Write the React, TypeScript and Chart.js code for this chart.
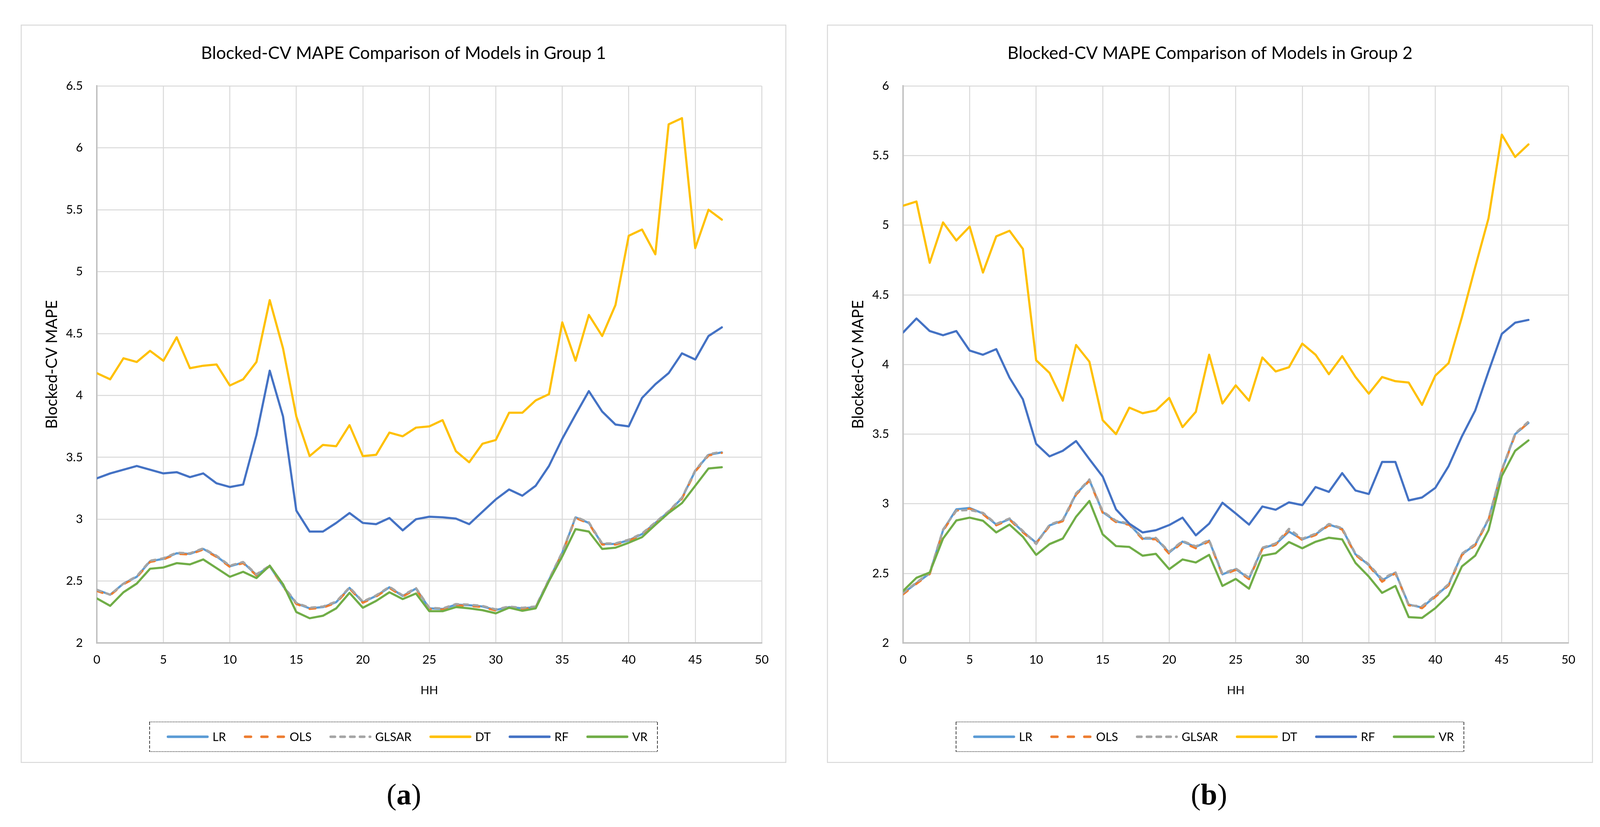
import React, { useEffect, useRef } from 'react';
import { Chart, registerables } from 'chart.js';

Chart.register(...registerables);

// ---------------- data ----------------
const HH = [0, 1, 2, 3, 4, 5, 6, 7, 8, 9, 10, 11, 12, 13, 14, 15, 16, 17, 18, 19, 20, 21, 22, 23, 24, 25, 26, 27, 28, 29, 30, 31, 32, 33, 34, 35, 36, 37, 38, 39, 40, 41, 42, 43, 44, 45, 46, 47];

const SERIES_NAMES = ['LR', 'OLS', 'GLSAR', 'DT', 'RF', 'VR'];

const TITLE_A = 'Blocked-CV MAPE Comparison of Models in Group 1';
const TITLE_B = 'Blocked-CV MAPE Comparison of Models in Group 2';
const Y_TITLE = 'Blocked-CV MAPE';
const X_TITLE = 'HH';

const X_TICKS = { min: 0, max: 50, step: 5 };
const Y_TICKS_A = { min: 2, max: 6.5, step: 0.5 };
const Y_TICKS_B = { min: 2, max: 6, step: 0.5 };

// Group 1
const LR_A = [2.43, 2.39, 2.48, 2.535, 2.66, 2.68, 2.725, 2.72, 2.76, 2.70, 2.62, 2.65, 2.55, 2.62, 2.46, 2.32, 2.28, 2.29, 2.33, 2.445, 2.33, 2.38, 2.45, 2.38, 2.44, 2.28, 2.275, 2.31, 2.305, 2.295, 2.267, 2.29, 2.28, 2.29, 2.51, 2.73, 3.015, 2.97, 2.80, 2.80, 2.83, 2.88, 2.97, 3.06, 3.17, 3.39, 3.52, 3.54];
const OLS_A = [2.42, 2.385, 2.475, 2.53, 2.655, 2.675, 2.72, 2.715, 2.755, 2.695, 2.615, 2.645, 2.545, 2.62, 2.455, 2.315, 2.275, 2.285, 2.325, 2.44, 2.325, 2.375, 2.445, 2.375, 2.435, 2.275, 2.27, 2.305, 2.3, 2.29, 2.262, 2.285, 2.275, 2.285, 2.505, 2.725, 3.01, 2.965, 2.795, 2.795, 2.825, 2.875, 2.965, 3.055, 3.165, 3.385, 3.515, 3.535];
const GLSAR_A = [2.43, 2.39, 2.48, 2.54, 2.665, 2.685, 2.73, 2.725, 2.765, 2.705, 2.625, 2.655, 2.555, 2.625, 2.465, 2.325, 2.285, 2.295, 2.335, 2.45, 2.335, 2.385, 2.455, 2.385, 2.445, 2.285, 2.28, 2.315, 2.31, 2.3, 2.272, 2.295, 2.285, 2.295, 2.515, 2.735, 3.02, 2.975, 2.805, 2.805, 2.835, 2.885, 2.975, 3.065, 3.175, 3.395, 3.525, 3.545];
const DT_A = [4.18, 4.13, 4.30, 4.27, 4.36, 4.28, 4.47, 4.22, 4.24, 4.25, 4.08, 4.13, 4.27, 4.77, 4.38, 3.83, 3.51, 3.60, 3.59, 3.76, 3.51, 3.52, 3.70, 3.67, 3.74, 3.75, 3.80, 3.55, 3.46, 3.61, 3.64, 3.86, 3.86, 3.96, 4.01, 4.59, 4.28, 4.65, 4.48, 4.73, 5.29, 5.34, 5.14, 6.19, 6.24, 5.19, 5.50, 5.42];
const RF_A = [3.33, 3.37, 3.40, 3.43, 3.40, 3.37, 3.38, 3.34, 3.37, 3.29, 3.26, 3.28, 3.68, 4.20, 3.83, 3.07, 2.90, 2.90, 2.97, 3.05, 2.97, 2.96, 3.01, 2.91, 3.00, 3.02, 3.015, 3.005, 2.96, 3.06, 3.16, 3.24, 3.19, 3.27, 3.43, 3.65, 3.845, 4.035, 3.87, 3.765, 3.75, 3.98, 4.09, 4.18, 4.34, 4.29, 4.48, 4.55];
const VR_A = [2.36, 2.30, 2.41, 2.48, 2.60, 2.61, 2.645, 2.635, 2.675, 2.605, 2.535, 2.575, 2.525, 2.625, 2.475, 2.25, 2.20, 2.22, 2.28, 2.405, 2.285, 2.34, 2.41, 2.355, 2.40, 2.257, 2.257, 2.29, 2.28, 2.265, 2.24, 2.285, 2.26, 2.28, 2.50, 2.70, 2.92, 2.90, 2.76, 2.77, 2.81, 2.855, 2.955, 3.05, 3.13, 3.27, 3.41, 3.42];

// Group 2
const LR_B = [2.357, 2.43, 2.50, 2.81, 2.96, 2.97, 2.93, 2.85, 2.89, 2.80, 2.72, 2.844, 2.88, 3.07, 3.17, 2.94, 2.873, 2.853, 2.75, 2.75, 2.65, 2.728, 2.69, 2.735, 2.493, 2.53, 2.464, 2.68, 2.71, 2.80, 2.744, 2.78, 2.85, 2.82, 2.637, 2.56, 2.45, 2.506, 2.276, 2.255, 2.336, 2.418, 2.637, 2.706, 2.888, 3.24, 3.50, 3.58];
const OLS_B = [2.35, 2.425, 2.495, 2.805, 2.95, 2.965, 2.925, 2.845, 2.885, 2.795, 2.715, 2.84, 2.875, 3.065, 3.165, 2.935, 2.868, 2.848, 2.745, 2.745, 2.64, 2.723, 2.68, 2.73, 2.488, 2.525, 2.459, 2.675, 2.705, 2.81, 2.739, 2.775, 2.845, 2.815, 2.632, 2.555, 2.44, 2.501, 2.271, 2.25, 2.331, 2.413, 2.632, 2.701, 2.883, 3.235, 3.495, 3.585];
const GLSAR_B = [2.36, 2.435, 2.505, 2.815, 2.95, 2.955, 2.935, 2.855, 2.895, 2.805, 2.71, 2.849, 2.885, 3.075, 3.175, 2.945, 2.878, 2.858, 2.755, 2.755, 2.655, 2.733, 2.695, 2.74, 2.498, 2.535, 2.469, 2.685, 2.715, 2.82, 2.749, 2.785, 2.855, 2.825, 2.642, 2.565, 2.46, 2.511, 2.27, 2.265, 2.341, 2.423, 2.642, 2.711, 2.893, 3.245, 3.505, 3.59];
const DT_B = [5.14, 5.17, 4.73, 5.02, 4.89, 4.99, 4.66, 4.92, 4.96, 4.83, 4.03, 3.94, 3.74, 4.14, 4.02, 3.60, 3.50, 3.69, 3.65, 3.67, 3.76, 3.55, 3.66, 4.07, 3.72, 3.85, 3.74, 4.05, 3.95, 3.98, 4.15, 4.07, 3.93, 4.06, 3.91, 3.79, 3.91, 3.88, 3.87, 3.71, 3.92, 4.01, 4.34, 4.70, 5.05, 5.65, 5.49, 5.58];
const RF_B = [4.23, 4.33, 4.24, 4.21, 4.24, 4.10, 4.07, 4.11, 3.905, 3.75, 3.43, 3.34, 3.38, 3.45, 3.32, 3.195, 2.96, 2.857, 2.794, 2.81, 2.847, 2.90, 2.773, 2.857, 3.007, 2.93, 2.85, 2.98, 2.957, 3.01, 2.99, 3.12, 3.085, 3.22, 3.095, 3.07, 3.30, 3.30, 3.024, 3.045, 3.114, 3.27, 3.484, 3.67, 3.95, 4.22, 4.30, 4.32];
const VR_B = [2.374, 2.468, 2.506, 2.75, 2.88, 2.90, 2.878, 2.794, 2.85, 2.763, 2.633, 2.71, 2.75, 2.907, 3.02, 2.78, 2.696, 2.69, 2.627, 2.64, 2.53, 2.60, 2.578, 2.633, 2.41, 2.46, 2.39, 2.627, 2.644, 2.725, 2.68, 2.727, 2.756, 2.744, 2.575, 2.477, 2.36, 2.41, 2.186, 2.18, 2.25, 2.343, 2.55, 2.627, 2.81, 3.20, 3.38, 3.455];

// ---------------- styles ----------------
const COLORS = ['#5B9BD5', '#ED7D31', '#A5A5A5', '#FFC000', '#4472C4', '#70AD47'];
const DASHES: number[][] = [[], [15, 27], [11, 14], [], [], []];
const FAMILY = 'Lato, "Open Sans", "Noto Sans", sans-serif';
const LINE_W = 5.5;

const CANVAS_W = 1960;
const CANVAS_H = 1890;
const X_AXIS_H = 120;

function fitSize(ctx: CanvasRenderingContext2D, text: string, target: number) {
  ctx.font = `100px ${FAMILY}`;
  return (100 * target) / ctx.measureText(text).width;
}

function capText(ctx: CanvasRenderingContext2D, text: string, x: number, yc: number, size: number, align: CanvasTextAlign) {
  ctx.font = `${size}px ${FAMILY}`;
  ctx.textAlign = align;
  ctx.textBaseline = 'alphabetic';
  ctx.fillText(text, x, yc + size * 0.36);
}

function makeDecor(title: string) {
  return {
    id: 'decor',
    beforeDraw(chart: any) {
      const ctx = chart.ctx as CanvasRenderingContext2D;
      ctx.save();
      ctx.fillStyle = '#ffffff';
      ctx.fillRect(0, 0, chart.width, chart.height);
      ctx.strokeStyle = '#d9d9d9';
      ctx.lineWidth = 2.5;
      ctx.strokeRect(1.25, 1.25, chart.width - 2.5, chart.height - 2.5);
      ctx.restore();
    },
    afterDraw(chart: any) {
      const ctx = chart.ctx as CanvasRenderingContext2D;
      const area = chart.chartArea;
      const cx = chart.width / 2;
      const pcx = (area.left + area.right) / 2;
      const pcy = (area.top + area.bottom) / 2;
      ctx.save();
      ctx.fillStyle = '#000000';
      // title
      capText(ctx, title, cx, 72, fitSize(ctx, title, 1037), 'center');
      // x title
      capText(ctx, X_TITLE, pcx, 1703, fitSize(ctx, X_TITLE, 45), 'center');
      // y title
      ctx.save();
      ctx.translate(79, pcy);
      ctx.rotate(-Math.PI / 2);
      capText(ctx, Y_TITLE, 0, 0, fitSize(ctx, Y_TITLE, 330), 'center');
      ctx.restore();

      // legend
      const boxL = cx - 650;
      const boxR = cx + 650;
      const boxT = 1785;
      const boxB = 1861;
      const ly = (boxT + boxB) / 2;
      ctx.strokeStyle = '#000000';
      ctx.lineWidth = 1.5;
      ctx.setLineDash([2, 2]);
      ctx.beginPath();
      ctx.moveTo(boxL, boxT); ctx.lineTo(boxR, boxT);
      ctx.moveTo(boxL, boxB); ctx.lineTo(boxR, boxB);
      ctx.stroke();
      ctx.setLineDash([8, 4]);
      ctx.beginPath();
      ctx.moveTo(boxL, boxT); ctx.lineTo(boxL, boxB);
      ctx.moveTo(boxR, boxT); ctx.lineTo(boxR, boxB);
      ctx.stroke();

      const lsize = fitSize(ctx, 'GLSAR', 93);
      let x = boxL + 44;
      SERIES_NAMES.forEach((name, i) => {
        ctx.save();
        ctx.strokeStyle = COLORS[i];
        ctx.lineWidth = 6.5;
        ctx.lineCap = 'round';
        ctx.setLineDash(DASHES[i]);
        ctx.beginPath();
        ctx.moveTo(x + 3, ly);
        ctx.lineTo(x + 104, ly);
        ctx.stroke();
        ctx.restore();
        x += 117;
        ctx.fillStyle = '#000000';
        capText(ctx, name, x, ly, lsize, 'left');
        ctx.font = `${lsize}px ${FAMILY}`;
        x += ctx.measureText(name).width + 46;
      });
      ctx.restore();
    },
  };
}

function makeConfig(series: number[][], yt: { min: number; max: number; step: number }, title: string, tickSize: number): any {
  const datasets = SERIES_NAMES.map((name, i) => ({
    label: name,
    data: HH.map((h, j) => ({ x: h, y: series[i][j] })),
    borderColor: COLORS[i],
    backgroundColor: COLORS[i],
    borderWidth: LINE_W,
    borderDash: DASHES[i],
    borderCapStyle: 'round',
    borderJoinStyle: 'round',
    pointRadius: 0,
    pointHoverRadius: 0,
    tension: 0,
    fill: false,
    order: SERIES_NAMES.length - i,
  }));
  const tickFont = { family: FAMILY, size: tickSize };
  const fmt = (v: any) => String(Number(v));
  return {
    type: 'line',
    data: { datasets },
    options: {
      responsive: false,
      animation: false,
      devicePixelRatio: 1,
      events: [],
      layout: { padding: { left: 0, right: 63, top: 157, bottom: 307 - X_AXIS_H } },
      plugins: { legend: { display: false }, title: { display: false }, tooltip: { enabled: false } },
      scales: {
        x: {
          type: 'linear',
          min: X_TICKS.min,
          max: X_TICKS.max,
          ticks: { stepSize: X_TICKS.step, font: tickFont, color: '#000000', padding: 25, maxRotation: 0, autoSkip: false, callback: fmt },
          grid: { color: '#d9d9d9', lineWidth: 2.5, drawTicks: false },
          border: { color: '#bfbfbf', width: 3.5 },
          afterFit: (s: any) => { s.height = X_AXIS_H; },
        },
        y: {
          type: 'linear',
          min: yt.min,
          max: yt.max,
          ticks: { stepSize: yt.step, font: tickFont, color: '#000000', padding: 36, autoSkip: false, callback: fmt },
          grid: { color: '#d9d9d9', lineWidth: 2.5, drawTicks: false },
          border: { color: '#bfbfbf', width: 3.5 },
          afterFit: (s: any) => { s.width = 195; },
        },
      },
    },
    plugins: [makeDecor(title)],
  };
}

function Panel(props: { left: number; width: number; series: number[][]; yt: any; title: string }) {
  const ref = useRef<HTMLCanvasElement | null>(null);
  useEffect(() => {
    const canvas = ref.current!;
    const ctx = canvas.getContext('2d')!;
    const tickSize = fitSize(ctx, '6.5', 43);
    const chart = new Chart(canvas, makeConfig(props.series, props.yt, props.title, tickSize));
    return () => chart.destroy();
  }, []);
  return (
    <canvas
      ref={ref}
      width={props.width}
      height={CANVAS_H}
      style={{ position: 'absolute', left: props.left, top: 63, width: props.width, height: CANVAS_H }}
    />
  );
}

function Caption(props: { cx: number; letter: string }) {
  return (
    <div
      style={{
        position: 'absolute',
        left: props.cx - 200,
        top: 1983,
        width: 400,
        height: 100,
        lineHeight: '100px',
        textAlign: 'center',
        fontFamily: '"Liberation Serif", "DejaVu Serif", serif',
        fontSize: 76,
        color: '#000',
      }}
    >
      (<b>{props.letter}</b>)
    </div>
  );
}

export default function App() {
  useEffect(() => {
    document.body.style.margin = '0';
    document.body.style.overflow = 'hidden';
  }, []);
  return (
    <div style={{ position: 'absolute', left: 0, top: 0, width: 4146, height: 2117, background: '#ffffff', overflow: 'hidden' }}>
      <Panel left={53} width={CANVAS_W} series={[LR_A, OLS_A, GLSAR_A, DT_A, RF_A, VR_A]} yt={Y_TICKS_A} title={TITLE_A} />
      <Panel left={2117} width={1961} series={[LR_B, OLS_B, GLSAR_B, DT_B, RF_B, VR_B]} yt={Y_TICKS_B} title={TITLE_B} />
      <Caption cx={1034} letter="a" />
      <Caption cx={3095} letter="b" />
    </div>
  );
}
